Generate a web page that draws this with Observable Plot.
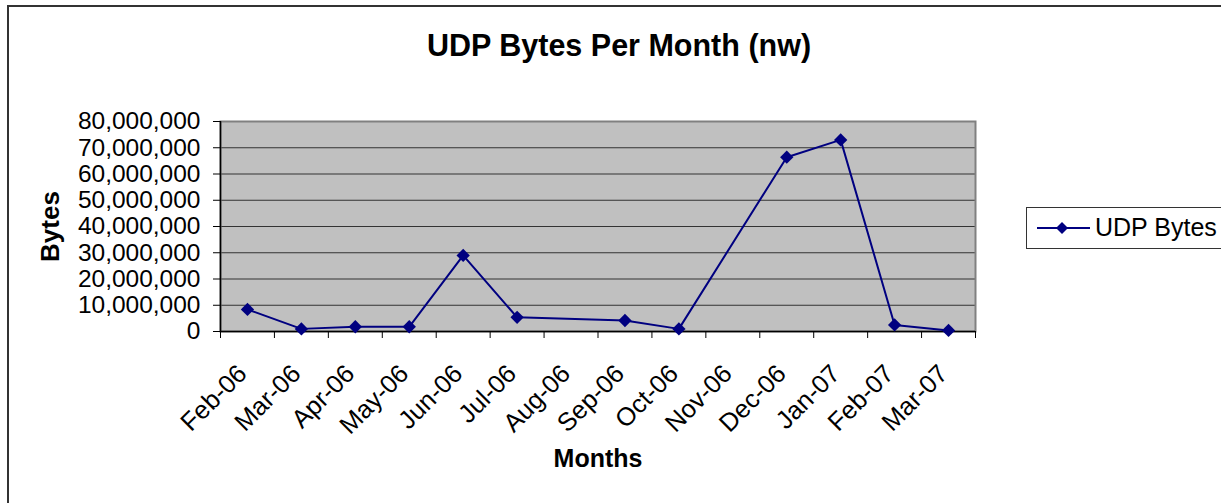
<!DOCTYPE html>
<html>
<head>
<meta charset="utf-8">
<script src="https://cdn.jsdelivr.net/npm/d3@7"></script>
<script src="https://cdn.jsdelivr.net/npm/@observablehq/plot@0.6"></script>
<style>
  html, body { margin: 0; padding: 0; background: #fff; overflow: hidden; }
  #wrap { position: relative; width: 1221px; height: 503px; font-family: "Liberation Sans", Arial, sans-serif; }
  #border { position: absolute; left: 7px; top: 5px; width: 1300px; height: 600px; border-top: 2px solid #333; border-left: 2px solid #333; box-sizing: border-box; }
  #title { position: absolute; left: 0; width: 1238px; top: 28px; text-align: center; font-weight: bold; font-size: 30.5px; color: #000; }
  #legend { position: absolute; left: 1026px; top: 207px; width: 260px; height: 42px; border: 1px solid #333; box-sizing: border-box; background: #fff; }
  #legend svg { position: absolute; left: 9px; top: 0; }
  #legend span { position: absolute; left: 68px; top: 5px; font-size: 25px; color: #000; white-space: nowrap; }
  #chart { position: absolute; left: 0; top: 0; }
</style>
</head>
<body>
<div id="wrap">
  <div id="border"></div>
  <div id="chart"></div>
  <div id="title"></div>
  <div id="legend"></div>
</div>
<script>
const title = "UDP Bytes Per Month (nw)";
const xTitle = "Months";
const yTitle = "Bytes";
const seriesName = "UDP Bytes";
const months = ["Feb-06","Mar-06","Apr-06","May-06","Jun-06","Jul-06","Aug-06","Sep-06","Oct-06","Nov-06","Dec-06","Jan-07","Feb-07","Mar-07"];
const udpBytes = [8400000, 1000000, 1800000, 1800000, 29000000, 5400000, null, 4200000, 1000000, null, 66400000, 73000000, 2500000, 400000];
const yTicks = [0, 10000000, 20000000, 30000000, 40000000, 50000000, 60000000, 70000000, 80000000];

const navy = "#000080";
const data = months.map((m, i) => ({month: m, i, value: udpBytes[i]})).filter(d => d.value != null);

const chart = Plot.plot({
  width: 1221,
  height: 503,
  marginLeft: 220,
  marginRight: 246,
  marginTop: 121,
  marginBottom: 172,
  style: {fontFamily: "'Liberation Sans', Arial, sans-serif", background: "transparent", color: "#000", overflow: "visible"},
  x: {type: "linear", domain: [0, months.length]},
  y: {domain: [0, 80000000]},
  marks: [
    Plot.frame({fill: "#c0c0c0", stroke: null}),
    Plot.gridY(yTicks, {stroke: "#333", strokeOpacity: 1, strokeWidth: 1}),
    Plot.frame({stroke: "#808080", strokeWidth: 2}),
    Plot.ruleY([0], {stroke: "#000", strokeWidth: 1.5}),
    Plot.ruleX([0], {stroke: "#000", strokeWidth: 1.5}),
    Plot.axisY(yTicks, {tickFormat: d3.format(","), tickSize: 7, tickPadding: 13, fontSize: 24.5, label: null, stroke: "#000"}),
    Plot.axisX(d3.range(months.length + 1), {tickSize: 7, tickFormat: () => "", label: null, stroke: "#000"}),
    Plot.axisX(d3.range(months.length).map(i => i + 0.5), {tickSize: 0, tickPadding: 38, tickRotate: -45, dx: -5, fontSize: 25.5, tickFormat: d => months[Math.floor(d)], label: null}),
    Plot.line(data, {x: d => d.i + 0.5, y: "value", stroke: navy, strokeWidth: 2}),
    Plot.dot(data, {x: d => d.i + 0.5, y: "value", symbol: "diamond2", r: 6, fill: navy, stroke: null}),
    Plot.text([yTitle], {frameAnchor: "left", textAnchor: "middle", dx: -170, rotate: -90, fontSize: 26, fontWeight: "bold", fill: "#000"}),
    Plot.text([xTitle], {frameAnchor: "bottom", dy: 135, fontSize: 25, fontWeight: "bold", fill: "#000"})
  ]
});
document.getElementById("chart").appendChild(chart);
document.getElementById("title").textContent = title;

const legend = document.getElementById("legend");
legend.innerHTML = `<svg width="56" height="40"><line x1="1" y1="20" x2="54" y2="20" stroke="${navy}" stroke-width="2"/><path d="M26,14 L32,20 L26,26 L20,20 Z" fill="${navy}"/></svg><span></span>`;
legend.querySelector("span").textContent = seriesName;
</script>
</body>
</html>
